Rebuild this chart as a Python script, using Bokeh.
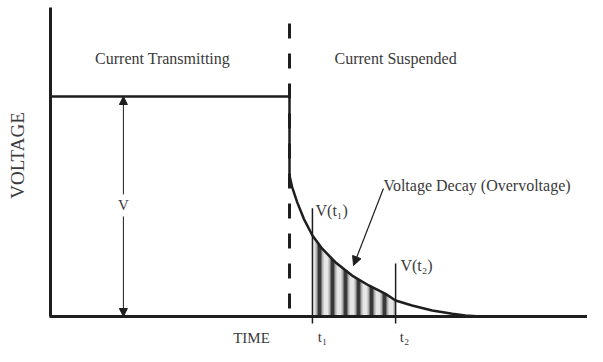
from bokeh.plotting import figure
from bokeh.models import Range1d, Arrow, NormalHead
from bokeh.core.properties import value
from bokeh.embed import file_html
from bokeh.resources import INLINE

# ---- diagram data (time in arbitrary units, voltage in % of V) ----
t_off = 100.0            # moment current is switched off
t_axis_end = 231.0
v_axis_top = 140.5
v_level = 100.0          # steady transmitting voltage V
v_dash_top = 133.2

decay_t = [100.0, 101.1, 103.2, 106.0, 109.6, 113.7, 119.2, 126.2, 133.2,
           140.2, 144.4, 151.3, 159.7, 168.1, 173.6, 179.9]
decay_v = [64.1, 58.8, 52.0, 44.4, 36.8, 30.8, 24.7, 18.6, 14.1,
           10.3, 7.3, 5.0, 2.7, 1.2, 0.45, 0.0]

t1 = 109.6
t2 = 144.4
t1_top = 49.2
t2_top = 24.1
tick_bottom = -3.2

arrow_t = 30.5
v_label_gap = [55.5, 45.5]

decay_arrow_start = [139.3, 58.2]
decay_arrow_end = [126.8, 23.2]

top_text = ["Current Transmitting", "Current Suspended"]
top_t = [46.9, 144.4]
top_v = [117.3, 117.3]

small_text = ["TIME", "V", "t\u2081", "t\u2082"]
small_t = [84.1, 30.5, 113.8, 148.1]
small_v = [-9.8, 50.5, -9.3, -9.3]

left_text = ["V(t\u2081)", "V(t\u2082)", "Voltage Decay (Overvoltage)"]
left_t = [110.9, 146.4, 139.3]
left_v = [48.2, 23.2, 59.5]

INK = "#1e1e1e"
TXT = "#3a3a3a"
FONT = value("Liberation Serif")

p = figure(width=587, height=346, output_backend="svg", toolbar_location=None,
           x_range=Range1d(-20.92, 224.69), y_range=Range1d(-13.64, 143.64),
           min_border=0)
p.axis.visible = False
p.grid.visible = False
p.outline_line_color = None
p.background_fill_color = "white"

# shaded area between t1 and t2 (striped, shaded like cylinders)
i1 = decay_t.index(t1)
i2 = decay_t.index(t2)
xs = decay_t[i1:i2 + 1]
top = decay_v[i1:i2 + 1]
zeros = [0] * len(xs)
p.varea(x=xs, y1=zeros, y2=top, fill_color="#e6e6e6")
p.varea(x=xs, y1=zeros, y2=top, fill_alpha=0, hatch_pattern="vertical_line",
        hatch_color="#8a8a8a", hatch_scale=13, hatch_weight=8, hatch_alpha=0.6)
p.varea(x=xs, y1=zeros, y2=top, fill_alpha=0, hatch_pattern="vertical_line",
        hatch_color="#1a1a1a", hatch_scale=13, hatch_weight=4, hatch_alpha=0.8)

# axes
p.line(x=[0, 0], y=[0, v_axis_top], line_color=INK, line_width=3)
p.line(x=[-0.4, t_axis_end], y=[0, 0], line_color=INK, line_width=3)

# transmitting level and drop
p.line(x=[0, t_off, t_off], y=[v_level, v_level, decay_v[0]], line_color=INK, line_width=2.5)
# switch-off dashed line
p.line(x=[t_off, t_off], y=[v_dash_top, 0], line_color=INK, line_width=3,
       line_dash="15 15")
# decay curve
p.line(x=decay_t, y=decay_v, line_color=INK, line_width=2.5)

# t1, t2 markers
p.segment(x0=[t1, t2], y0=[t1_top, t2_top], x1=[t1, t2], y1=[tick_bottom, tick_bottom],
          line_color=INK, line_width=1.5)

# V double arrow (broken for label)
p.add_layout(Arrow(end=NormalHead(size=8, fill_color=INK, line_color=INK), start=None,
                   x_start=arrow_t, y_start=v_label_gap[0], x_end=arrow_t, y_end=v_level,
                   line_color=INK, line_width=1))
p.add_layout(Arrow(end=NormalHead(size=8, fill_color=INK, line_color=INK), start=None,
                   x_start=arrow_t, y_start=v_label_gap[1], x_end=arrow_t, y_end=0,
                   line_color=INK, line_width=1))

# decay arrow
p.add_layout(Arrow(end=NormalHead(size=9, fill_color=INK, line_color=INK), start=None,
                   x_start=decay_arrow_start[0], y_start=decay_arrow_start[1],
                   x_end=decay_arrow_end[0], y_end=decay_arrow_end[1],
                   line_color=INK, line_width=1.2))

# texts
p.text(x=top_t, y=top_v, text=top_text, text_font=FONT, text_font_size="16px",
       text_color=TXT, text_align="center", text_baseline="middle")
p.text(x=small_t, y=small_v, text=small_text, text_font=FONT, text_font_size="15px",
       text_color=TXT, text_align="center", text_baseline="middle")
p.text(x=left_t, y=left_v, text=left_text, text_font=FONT, text_font_size="16px",
       text_color=TXT, text_align="left", text_baseline="middle")
p.text(x=[-13.8], y=[73.2], text=["VOLTAGE"], text_font=FONT, text_font_size="19px",
       text_color=TXT, text_align="center", text_baseline="middle", angle=1.5708)

open("out.html", "w").write(file_html(p, INLINE))
